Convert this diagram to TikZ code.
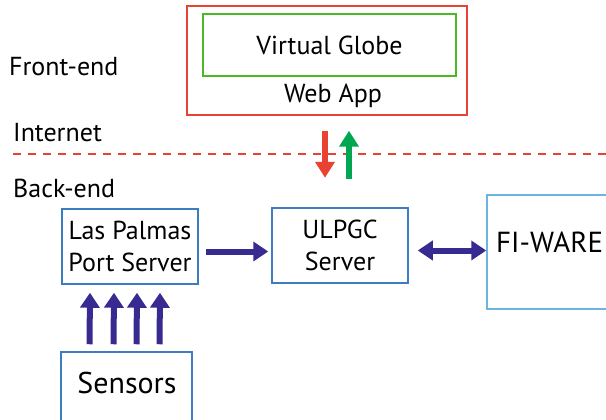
\documentclass[tikz,border=0pt]{standalone}
\usepackage{fontspec}
\setmainfont{PT Sans}
\usepackage{xcolor}
\definecolor{webred}{RGB}{232, 67, 50}
\definecolor{globegreen}{RGB}{76, 184, 38}
\definecolor{arrowgreen}{RGB}{0, 166, 80}
\definecolor{serverblue}{RGB}{59, 125, 192}
\definecolor{wareblue}{RGB}{107, 181, 224}
\definecolor{flow}{RGB}{55, 42, 145}
\usepackage{tikz}
\usetikzlibrary{arrows.meta, positioning, calc}
\tikzstyle{box} = [rectangle, draw=serverblue, line width=1.5pt, inner sep=0pt, align=center, font=\fontsize{26}{32}\selectfont]
\tikzstyle{sidelabel} = [inner sep=0pt, anchor=base west, font=\fontsize{26}{30}\selectfont]
\tikzstyle{flowarrow} = [line width=6pt, flow, -{Triangle[width=19pt,length=15pt]}]
\tikzstyle{netarrow} = [line width=6pt, -{Triangle[width=19pt,length=16pt]}]

\begin{document}
\begin{tikzpicture}[x=1pt, y=-1pt]
    \useasboundingbox (0,0) rectangle (606,420);

    % front-end
    \node[box, draw=webred, minimum width=280pt, minimum height=109pt] (webapp) at (327,60.5) {};
    \node[box, draw=globegreen, minimum width=253pt, minimum height=62pt] (globe) at (329.5,45) {Virtual Globe};
    \node[inner sep=0pt, font=\fontsize{26}{30}\selectfont] (webtext) at (333,96) {Web App};

    \node[sidelabel] (front) at (9,76) {Front-end};
    \node[sidelabel] (inet) at (13,142) {Internet};
    \node[sidelabel] (back) at (13,197) {Back-end};
    \coordinate (dashl) at (13,154);
    \coordinate (dashr) at (606,154);
    \draw[draw=webred, line width=1.2pt, dash pattern=on 8pt off 7pt] (dashl) -- (dashr);

    % back-end
    \node[box, minimum width=136pt, minimum height=75pt] (port) at (130,246.5) {Las Palmas\\Port Server};
    \node[box, minimum width=136pt, minimum height=75pt] (ulpgc) at (340,245.5) {ULPGC\\Server};
    \node[box, draw=wareblue, minimum width=140pt, minimum height=114pt] (fiware) at (557,252) {};
    \node[inner sep=0pt, anchor=west, font=\fontsize{29}{32}\selectfont] (fitext) at (496,242) {FI-WARE};
    \node[box, minimum width=131pt, minimum height=80pt] (sensors) at (126.5,392) {};
    \node[inner sep=0pt, font=\fontsize{30}{34}\selectfont] (senstext) at (127,383) {Sensors};

    % arrows
    \draw[netarrow, webred] ($(webapp.south)+(-2,15)$) -- ($(webapp.south)+(-2,62)$);
    \draw[netarrow, arrowgreen] ($(webapp.south)+(22,63)$) -- ($(webapp.south)+(22,15)$);
    \draw[flowarrow] ($(port.east)+(7,5)$) -- ($(ulpgc.west)+(-3,6)$);
    \draw[flowarrow, {Triangle[width=19pt,length=15pt]}-{Triangle[width=19pt,length=15pt]}] ($(ulpgc.east)+(9,5)$) -- (fiware.west |- {$(ulpgc.east)+(0,5)$});
    \foreach \dx in {-37,-13,10,33}
        \draw[flowarrow] ($(sensors.north)+(\dx,-7)$) -- ($(port.south)+(\dx-3,8)$);
\end{tikzpicture}
\end{document}
